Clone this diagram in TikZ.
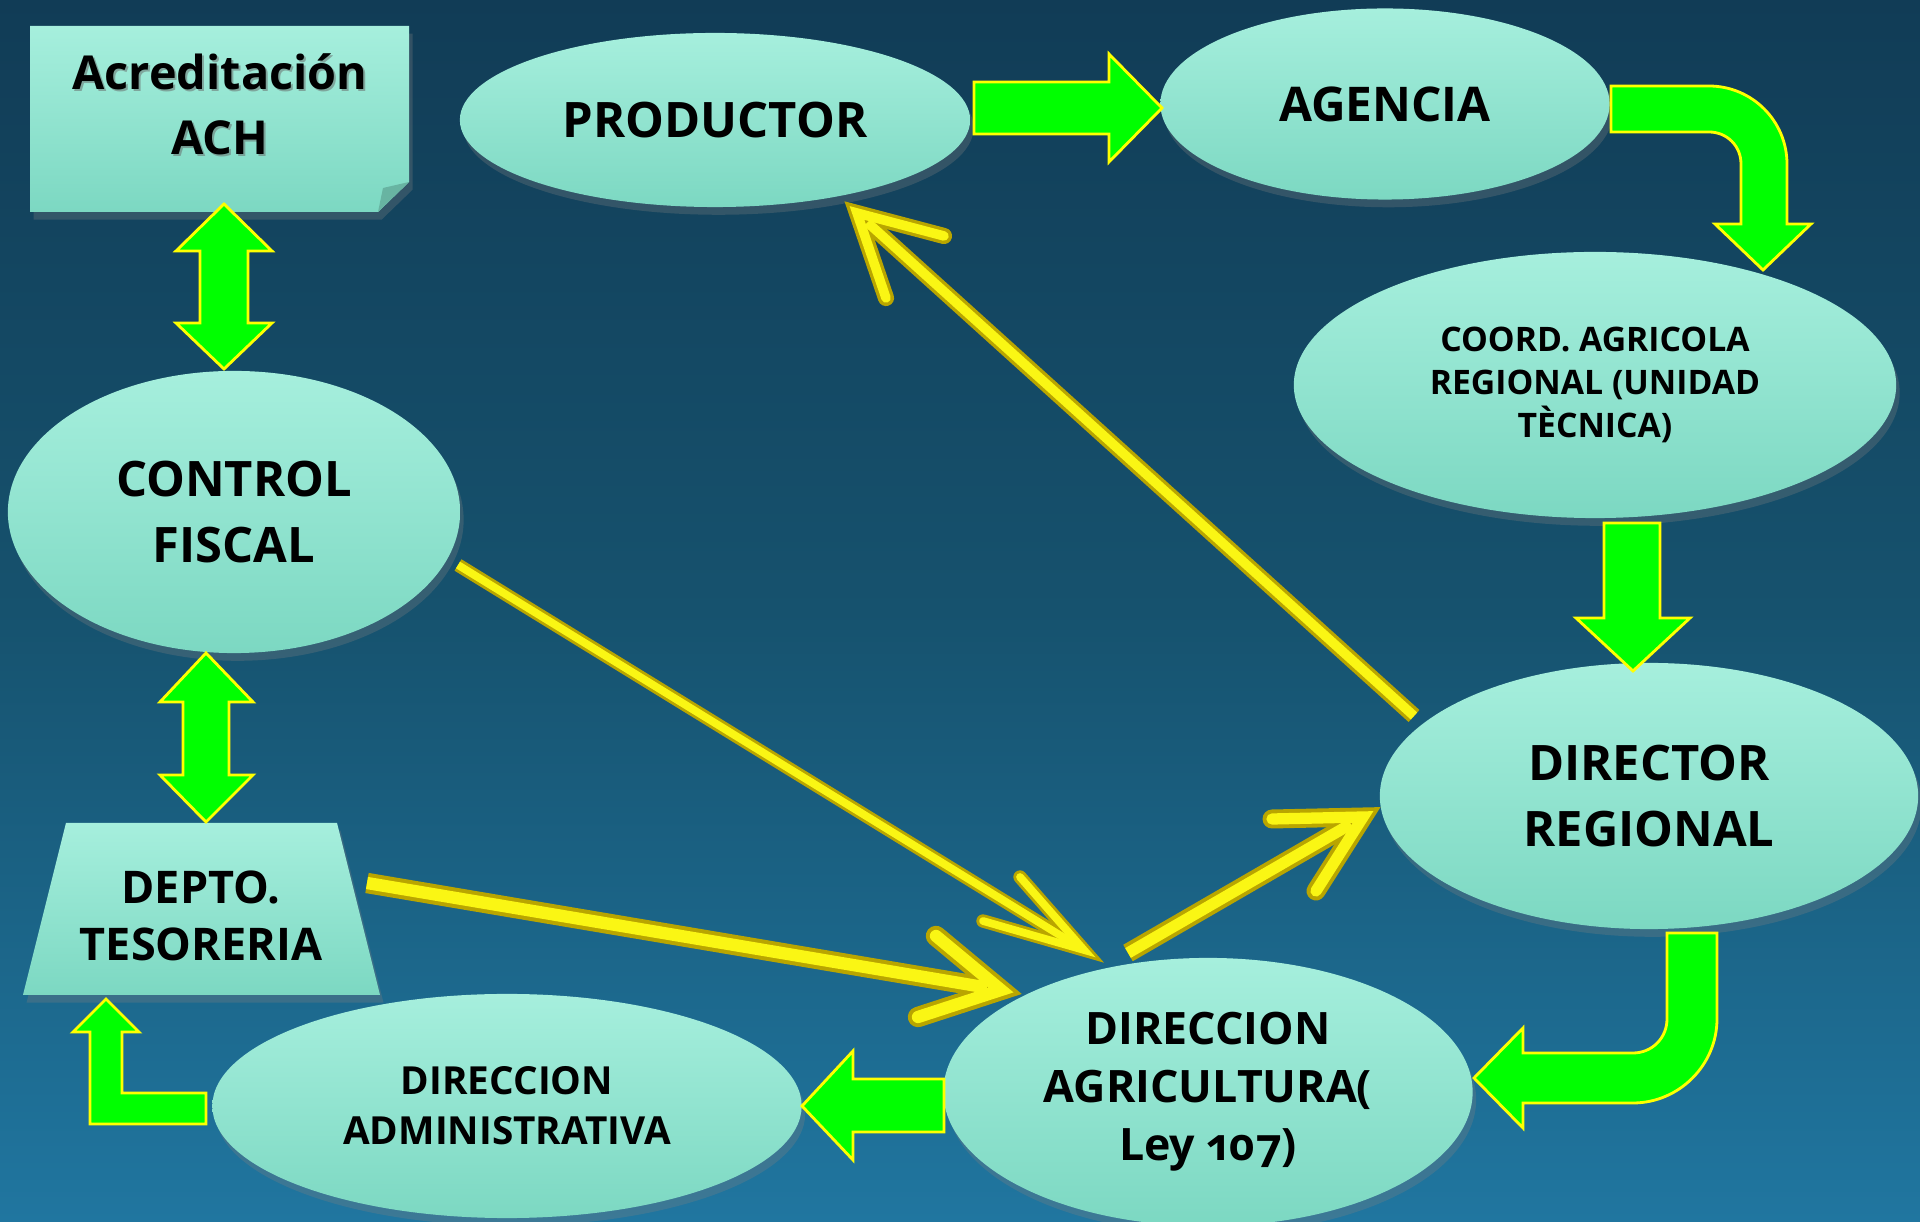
\documentclass[tikz,border=0pt]{standalone}
\usepackage{fontspec}
\setmainfont{Open Sans}
\usetikzlibrary{shapes.geometric,shadows}
\definecolor{bgtop}{RGB}{17,60,86}
\definecolor{bgmid}{RGB}{22,82,110}
\definecolor{bgbot}{RGB}{32,118,160}
\definecolor{shtop}{RGB}{166,239,221}
\definecolor{shbot}{RGB}{124,216,194}
\definecolor{grn}{RGB}{0,255,0}
\definecolor{ylw}{RGB}{255,255,0}
\definecolor{ydark}{RGB}{185,165,0}
\definecolor{ylight}{RGB}{250,246,20}
\definecolor{foldc}{RGB}{104,180,162}
\newcommand{\fbig}{\fontsize{13.9pt}{18.5pt}\selectfont\bfseries}
\newcommand{\facr}{\fontsize{13.3pt}{18.5pt}\selectfont\bfseries}
\newcommand{\fagen}{\fontsize{13.6pt}{18pt}\selectfont\bfseries}
\newcommand{\fdep}{\fontsize{12.8pt}{16.2pt}\selectfont\bfseries}
\newcommand{\fagr}{\fontsize{12.7pt}{16.5pt}\selectfont\bfseries}
\newcommand{\fadm}{\fontsize{11pt}{14.2pt}\selectfont\bfseries}
\newcommand{\fcoord}{\fontsize{9.6pt}{12.2pt}\selectfont\bfseries}
% start, tip, arm1, arm2, width, inner width
\newcommand{\yarr}[6]{%
  \draw[line width=#5, ydark, line cap=butt, shorten >=3pt] (#1) -- (#2);
  \draw[line width=#5, ydark, line cap=round, line join=miter] (#3) -- (#2) -- (#4);
  \draw[line width=#6, ylight, line cap=butt, shorten >=4pt] (#1) -- (#2);
  \draw[line width=#6, ylight, line cap=round, line join=miter] (#3) -- (#2) -- (#4);
}
\begin{document}
\begin{tikzpicture}[x=0.01cm,y=-0.01cm,
  shapefill/.style={top color=shtop, bottom color=shbot, draw=none,
    drop shadow={opacity=0.3, shadow xshift=1pt, shadow yshift=-2.2pt}},
  ell/.style={shapefill, ellipse, inner sep=0pt, align=center, text=black},
  lbl/.style={align=center, text=black, inner sep=0pt},
  garrow/.style={fill=grn, draw=ylw, line width=0.8pt, line join=miter}]
\useasboundingbox (0,0) rectangle (1920,1222);
\fill[top color=bgtop, bottom color=bgbot, middle color=bgmid] (0,0) rectangle (1920,1222);

% Acreditacion box with folded corner
\path[shapefill] (30,26) -- (409,26) -- (409,182) -- (378,212) -- (30,212) -- cycle;
\fill[foldc] (409,182) -- (383,188) -- (378,212) -- cycle;
\node[lbl, font=\facr, text=black!60, opacity=0.5] at (222,106) {Acreditación\\ACH};
\node[lbl, font=\facr] (acr) at (220,104) {Acreditación\\ACH};

% Depto tesoreria trapezoid
\path[shapefill] (66,823) -- (337,823) -- (380,995) -- (23,995) -- cycle;
\node[lbl, font=\fdep] (dep) at (201,916) {DEPTO.\\TESORERIA};

% Ellipses
\node[ell, minimum width=5.10cm, minimum height=1.74cm, font=\fbig] (prod) at (715,120) {PRODUCTOR};
\node[ell, minimum width=4.49cm, minimum height=1.91cm, font=\fagen] (agen) at (1385,104) {AGENCIA};
\node[ell, minimum width=4.52cm, minimum height=2.82cm, font=\fbig] (ctrl) at (234,512) {CONTROL\\FISCAL};
\node[ell, minimum width=6.02cm, minimum height=2.66cm, font=\fcoord] (coord) at (1595,385) {COORD. AGRICOLA\\REGIONAL (UNIDAD\\TÈCNICA)};
\node[ell, minimum width=5.38cm, minimum height=2.66cm, font=\fbig] (dirreg) at (1649,796) {DIRECTOR\\REGIONAL};
\node[ell, minimum width=5.29cm, minimum height=2.68cm, font=\fagr] (diragr) at (1208,1092) {DIRECCION\\AGRICULTURA(\\Ley {\addfontfeatures{Numbers=OldStyle}107})};
\node[ell, minimum width=5.89cm, minimum height=2.24cm, font=\fadm] (diradm) at (507,1106) {DIRECCION\\ADMINISTRATIVA};

% Green block arrows
\draw[garrow] (224,204) -- (272,251) -- (248,251) -- (248,323) -- (272,323) -- (224,369) -- (176,323) -- (200,323) -- (200,251) -- (176,251) -- cycle;
\draw[garrow] (206,653) -- (253,702) -- (229,702) -- (229,775) -- (253,775) -- (206,822) -- (160,775) -- (183,775) -- (183,702) -- (160,702) -- cycle;
\draw[garrow] (974,82) -- (1109,82) -- (1109,54) -- (1162,108) -- (1109,162) -- (1109,134) -- (974,134) -- cycle;
\draw[garrow] (1611,86) -- (1709,86) .. controls (1752,86) and (1787,121) .. (1787,164) -- (1787,224) -- (1811,224) -- (1763,270) -- (1715,224) -- (1741,224) -- (1741,164) .. controls (1741,146) and (1727,132) .. (1709,132) -- (1611,132) -- cycle;
\draw[garrow] (1604,523) -- (1660,523) -- (1660,618) -- (1690,618) -- (1633,671) -- (1576,618) -- (1604,618) -- cycle;
\draw[garrow] (1717,933) -- (1717,1019) .. controls (1717,1065) and (1679,1103) .. (1633,1103) -- (1523,1103) -- (1523,1128) -- (1474,1078) -- (1523,1028) -- (1523,1053) -- (1633,1053) .. controls (1652,1053) and (1667,1038) .. (1667,1019) -- (1667,933) -- cycle;
\draw[garrow] (944,1079) -- (853,1079) -- (853,1051) -- (802,1106) -- (853,1160) -- (853,1132) -- (944,1132) -- cycle;
\draw[garrow] (206,1124) -- (90,1124) -- (90,1032) -- (73,1032) -- (106,999) -- (139,1032) -- (122,1032) -- (122,1093) -- (206,1093) -- cycle;

% Yellow arrows
\coordinate (y1s) at (1414,716); \coordinate (y1t) at (857,213);
\coordinate (y1a) at (944,236); \coordinate (y1b) at (886,298);
\coordinate (y2s) at (458,565); \coordinate (y2t) at (1084,950);
\coordinate (y2a) at (1020,877); \coordinate (y2b) at (983,921);
\coordinate (y3s) at (367,883); \coordinate (y3t) at (1001,990);
\coordinate (y3a) at (936,936); \coordinate (y3b) at (918,1017);
\coordinate (y4s) at (1128,953); \coordinate (y4t) at (1363,817);
\coordinate (y4a) at (1272,819); \coordinate (y4b) at (1316,891);
\yarr{y1s}{y1t}{y1a}{y1b}{4.6pt}{2.7pt}
\yarr{y2s}{y2t}{y2a}{y2b}{3.8pt}{2.2pt}
\yarr{y3s}{y3t}{y3a}{y3b}{5.8pt}{3.5pt}
\yarr{y4s}{y4t}{y4a}{y4b}{5.4pt}{3.2pt}
\end{tikzpicture}
\end{document}
